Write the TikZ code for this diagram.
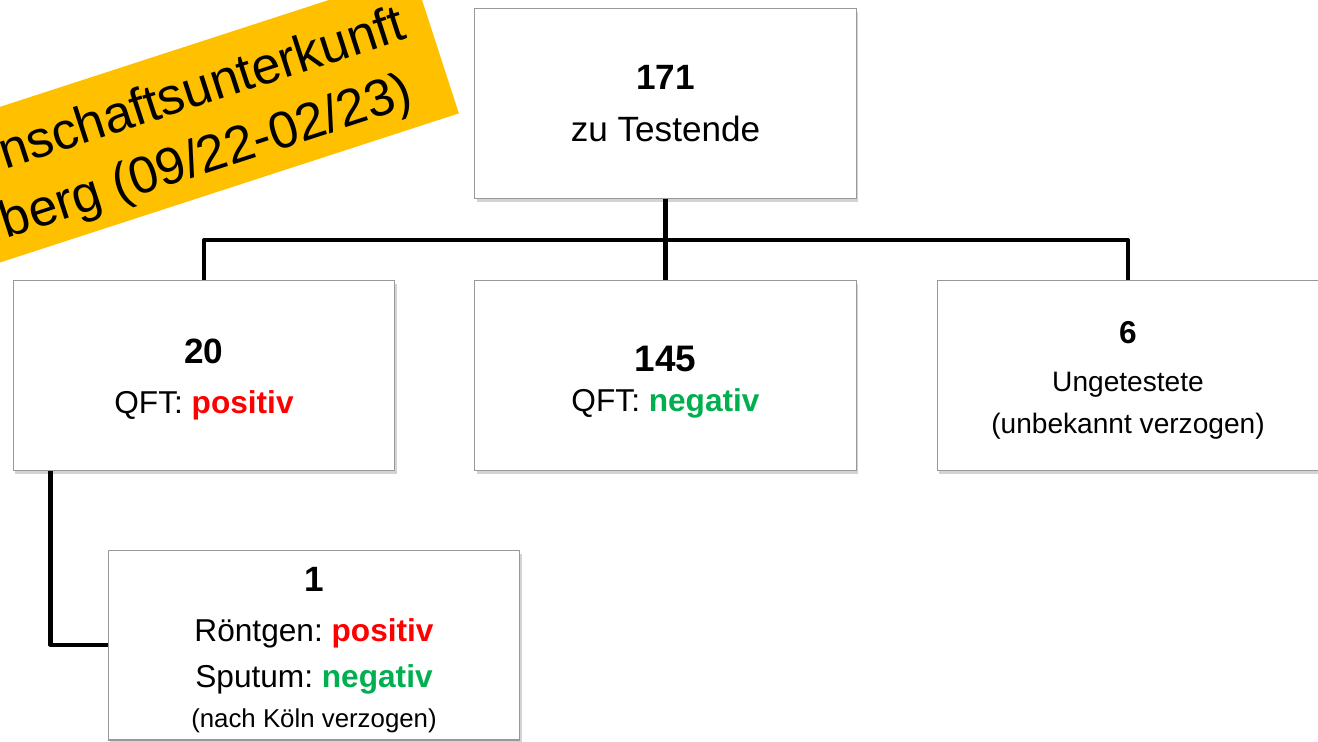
\documentclass[tikz,border=0pt]{standalone}
\usepackage{fontspec}
\setmainfont{Liberation Sans}
\usetikzlibrary{positioning, calc, shadows}
\definecolor{qftRot}{RGB}{255,0,0}
\definecolor{qftGruen}{RGB}{0,176,80}
\definecolor{bannerGelb}{RGB}{255,192,0}
\frenchspacing

\begin{document}
\begin{tikzpicture}[x=0.02cm, y=-0.02cm,
        kasten/.style={rectangle, draw=black!40, line width=0.6pt, fill=white, minimum width=7.64cm, minimum height=3.8cm, align=flush center,
            drop shadow={shadow xshift=0.04cm, shadow yshift=-0.07cm, opacity=0.35}},
        bannerschrift/.style={inner sep=0pt, font=\fontsize{29.5}{35}\selectfont},
        linie/.style={line width=2.3pt, line join=round}]
    \useasboundingbox (0,0) rectangle (1318,741);
    \clip (0,0) rectangle (1318,741);
    % Banner oben links
    \begin{scope}[shift={(436,43)}, rotate=18, transform shape]
        \fill[bannerGelb] (-900,-74) rectangle (0,74);
        \node[bannerschrift, anchor=base east] (zeile1) at (-25,-13) {nschaftsunterkunft};
        \node[bannerschrift, anchor=base east] (zeile2) at (-39,53) {berg (09/22-02/23)};
    \end{scope}
    % Kaesten
    \node[kasten, font=\fontsize{20}{29.5}\selectfont] (test) at (665.5,103.5) {\textbf{171}\\zu Testende};
    \node[kasten, font=\fontsize{18}{28.5}\selectfont] (pos) at (204,375.5)
        {\rule{0pt}{18.5pt}{\fontsize{20}{20}\selectfont\textbf{20}}\\QFT: \textbf{\color{qftRot}positiv}};
    \node[kasten, font=\fontsize{18}{22.7}\selectfont] (neg) at (665.5,375.5)
        {\rule{0pt}{22pt}{\fontsize{21}{21}\selectfont\textbf{145}}\\QFT: \textbf{\color{qftGruen}negativ}};
    \node[kasten, font=\fontsize{16}{24}\selectfont] (unb) at (1128,375.5)
        {\rule{0pt}{18pt}{\fontsize{18}{18}\selectfont\textbf{6}}\\[3pt]Ungetestete\\(unbekannt verzogen)};
    \node[kasten, minimum width=8.24cm, font=\fontsize{18}{26}\selectfont] (rnt) at (314,645)
        {\rule{0pt}{20pt}{\fontsize{20}{20}\selectfont\textbf{1}}\\[2.3pt]R\"ontgen: \textbf{\color{qftRot}positiv}\\Sputum: \textbf{\color{qftGruen}negativ}\\[-2.8pt]%
         {\fontsize{14.7}{14.7}\selectfont(nach K\"oln verzogen)}};
    % Verbindungen
    \coordinate (verteiler) at (665.5,240);
    \draw[linie] (test.south) -- (verteiler);
    \draw[linie] (pos.north) |- (verteiler) -| (unb.north);
    \draw[linie] (neg.north) -- (verteiler);
    \draw[linie] ($(pos.south west)+(38,0)$) |- (rnt.west);
\end{tikzpicture}
\end{document}
